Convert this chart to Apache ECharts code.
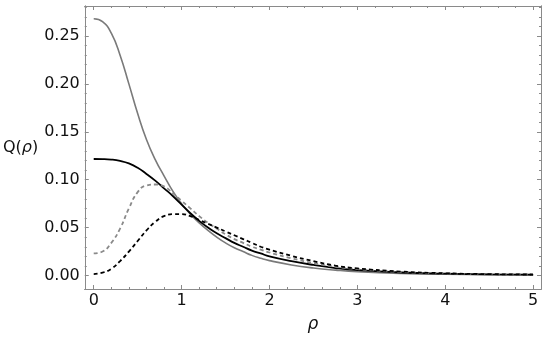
<!DOCTYPE html>
<html><head><meta charset="utf-8">
<script src="https://cdn.jsdelivr.net/npm/echarts@6/dist/echarts.min.js"></script>
<style>html,body{margin:0;padding:0;background:#fff}#c{width:550px;height:341px}</style>
</head><body><div id="c"></div>
<script>
const rho = [0,0.1,0.2,0.3,0.4,0.5,0.6,0.7,0.8,0.9,1.0,1.1,1.2,1.3,1.4,1.5,1.6,1.7,1.8,1.9,2.0,2.25,2.5,2.75,3.0,3.5,4.0,4.5,5.0];
const graySolid = [0.268,0.265,0.253,0.230,0.200,0.169,0.142,0.121,0.104,0.088,0.075,0.064,0.055,0.047,0.040,0.034,0.029,0.025,0.021,0.018,0.0155,0.011,0.0078,0.0056,0.004,0.0022,0.0013,0.0009,0.0006];
const blackSolid = [0.1216,0.1215,0.1210,0.1196,0.117,0.1125,0.106,0.099,0.091,0.083,0.074,0.065,0.057,0.050,0.044,0.039,0.034,0.030,0.026,0.023,0.020,0.015,0.011,0.0078,0.0056,0.0031,0.0019,0.0012,0.0009];
const grayDashed = [0.023,0.025,0.034,0.049,0.070,0.087,0.094,0.095,0.093,0.086,0.078,0.070,0.062,0.055,0.049,0.043,0.038,0.034,0.030,0.027,0.024,0.018,0.013,0.0092,0.0067,0.0036,0.0021,0.0013,0.001];
const blackDashed = [0.0015,0.003,0.007,0.015,0.025,0.036,0.047,0.056,0.062,0.064,0.064,0.062,0.058,0.054,0.050,0.046,0.042,0.038,0.034,0.030,0.027,0.0205,0.015,0.0103,0.0074,0.0041,0.0023,0.0014,0.001];
const xTicks = [0,1,2,3,4,5];
const xMinor = [];
for (let i=0;i<=25;i++){ const v=+(i*0.2).toFixed(1); if(Math.abs(v-Math.round(v))>1e-6) xMinor.push(v); }
const yTicks = [0,0.05,0.10,0.15,0.20,0.25];
const yMinor = [];
for (let i=0;i<=28;i++){ const v=+(i*0.01).toFixed(2); if(i%5!==0) yMinor.push(v); }
const yLabels = ['0.00','0.05','0.10','0.15','0.20','0.25'];

const XMIN=-0.102, XMAX=5.09, YMIN=-0.0141, YMAX=0.2813;
const axisCol = '#8a8a8a';
function xa(pos, vals, len, labels){
  return {type:'value', position:pos, min:XMIN, max:XMAX,
    axisLine:{show:true,onZero:false,lineStyle:{color:axisCol,width:1}},
    axisTick:{show:true,inside:true,length:len,customValues:vals,lineStyle:{color:axisCol,width:1}},
    axisLabel:labels?{show:true,customValues:vals,fontFamily:'DejaVu Sans',fontSize:16,color:'#111',margin:4}:{show:false},
    splitLine:{show:false}};
}
function ya(pos, vals, len, labels){
  return {type:'value', position:pos, min:YMIN, max:YMAX,
    axisLine:{show:true,onZero:false,lineStyle:{color:axisCol,width:1}},
    axisTick:{show:true,inside:true,length:len,customValues:vals,lineStyle:{color:axisCol,width:1}},
    axisLabel:labels?{show:true,customValues:vals,fontFamily:'DejaVu Sans',fontSize:16,color:'#111',margin:5,
      formatter:function(v){const i=yTicks.findIndex(t=>Math.abs(t-v)<1e-6);return i>=0?yLabels[i]:'';}}:{show:false},
    splitLine:{show:false}};
}
const xAxes=[xa('bottom',xTicks,4,true),xa('bottom',xMinor,2,false),xa('top',xTicks,4,false),xa('top',xMinor,2,false)];
xAxes[0].name='ρ'; xAxes[0].nameLocation='middle'; xAxes[0].nameGap=27;
xAxes[0].nameTextStyle={fontFamily:'DejaVu Sans',fontSize:17,fontStyle:'italic',color:'#111'};
const yAxes=[ya('left',yTicks,4,true),ya('left',yMinor,2,false),ya('right',yTicks,4,false),ya('right',yMinor,2,false)];
yAxes[0].name='{n|Q(}{i|ρ}{n|)}'; yAxes[0].nameLocation='middle'; yAxes[0].nameRotate=0; yAxes[0].nameGap=44;
yAxes[0].nameTextStyle={align:'right',rich:{n:{fontFamily:'DejaVu Sans',fontSize:16,color:'#111'},i:{fontFamily:'DejaVu Sans',fontSize:16,fontStyle:'italic',color:'#111'}}};

function mk(ys){ return rho.map((x,i)=>[x,ys[i]]); }
function s(ys,color,width,type){
  return {type:'line',xAxisIndex:0,yAxisIndex:0,data:mk(ys),smooth:true,showSymbol:false,symbol:'none',
    lineStyle:{color:color,width:width,type:type},z:type==='solid'?3:4};
}
const chart = echarts.init(document.getElementById('c'),null,{renderer:'canvas'});
chart.setOption({
  animation:false,
  grid:{left:82,right:9,top:6,bottom:52,containLabel:false},
  xAxis:xAxes, yAxis:yAxes,
  series:[
    s(graySolid,'#7a7a7a',1.6,'solid'),
    s(blackSolid,'#000',1.8,'solid'),
    s(grayDashed,'#8a8a8a',1.8,[4,3]),
    s(blackDashed,'#000',1.8,[4,3])
  ]
});
</script></body></html>
